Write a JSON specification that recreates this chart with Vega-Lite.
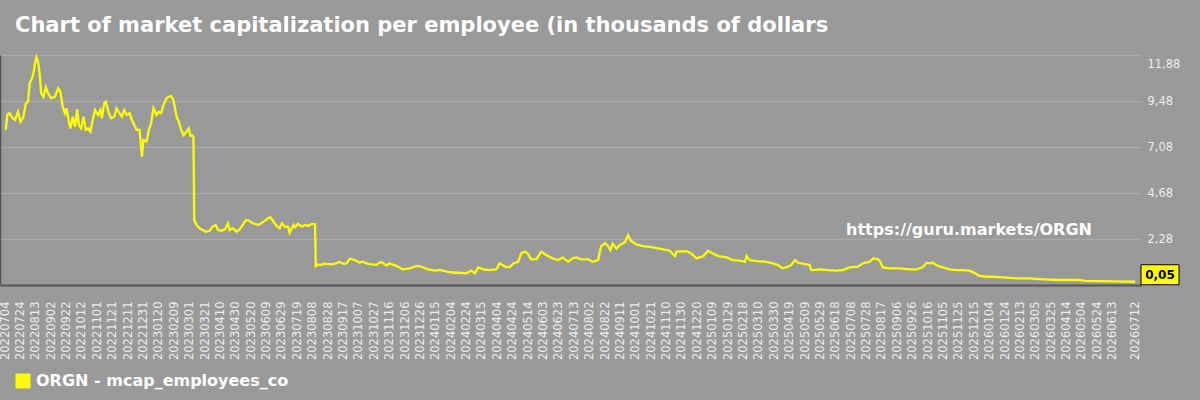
{
"$schema": "https://vega.github.io/schema/vega-lite/v6.json",
"width": 1141, "height": 230,
"autosize": {"type": "none"},
"padding": {"left": 0, "top": 55, "right": 59, "bottom": 115},
"background": "#999999",
"title": {"text": "Chart of market capitalization per employee (in thousands of dollars", "anchor": "start", "frame": "group", "dx": 15, "offset": 0, "baseline": "alphabetic", "font": "DejaVu Sans", "fontSize": 21, "fontWeight": "bold", "color": "#ffffff"},
"config": {"view": {"stroke": null}, "axisX": {"labelOverlap": false, "labelFlush": false}},
"datasets": {
"series": [
{"date":"2022-07-05","value":7.97},{"date":"2022-07-07","value":8.75},{"date":"2022-07-10","value":8.84},{"date":"2022-07-14","value":8.58},{"date":"2022-07-17","value":8.49},{"date":"2022-07-21","value":8.92},{"date":"2022-07-24","value":8.40},{"date":"2022-07-28","value":8.66},{"date":"2022-07-31","value":9.36},{"date":"2022-08-03","value":9.45},{"date":"2022-08-05","value":10.40},{"date":"2022-08-08","value":10.66},{"date":"2022-08-10","value":10.92},{"date":"2022-08-12","value":11.44},{"date":"2022-08-14","value":11.76},{"date":"2022-08-16","value":11.53},{"date":"2022-08-18","value":10.92},{"date":"2022-08-20","value":9.88},{"date":"2022-08-23","value":9.70},{"date":"2022-08-26","value":10.22},{"date":"2022-08-29","value":9.88},{"date":"2022-09-02","value":9.62},{"date":"2022-09-07","value":9.70},{"date":"2022-09-11","value":10.14},{"date":"2022-09-14","value":9.96},{"date":"2022-09-17","value":9.18},{"date":"2022-09-20","value":8.84},{"date":"2022-09-22","value":9.10},{"date":"2022-09-25","value":8.40},{"date":"2022-09-27","value":8.05},{"date":"2022-09-30","value":8.66},{"date":"2022-10-03","value":8.14},{"date":"2022-10-06","value":9.05},{"date":"2022-10-08","value":8.23},{"date":"2022-10-11","value":8.05},{"date":"2022-10-14","value":8.66},{"date":"2022-10-17","value":7.97},{"date":"2022-10-20","value":8.05},{"date":"2022-10-23","value":7.88},{"date":"2022-10-26","value":8.49},{"date":"2022-10-29","value":9.01},{"date":"2022-11-02","value":8.75},{"date":"2022-11-05","value":9.01},{"date":"2022-11-07","value":8.58},{"date":"2022-11-10","value":9.36},{"date":"2022-11-12","value":9.44},{"date":"2022-11-16","value":8.84},{"date":"2022-11-19","value":8.58},{"date":"2022-11-23","value":8.66},{"date":"2022-11-26","value":9.10},{"date":"2022-11-30","value":8.84},{"date":"2022-12-03","value":8.66},{"date":"2022-12-06","value":9.01},{"date":"2022-12-09","value":8.75},{"date":"2022-12-13","value":8.84},{"date":"2022-12-16","value":8.49},{"date":"2022-12-19","value":8.23},{"date":"2022-12-22","value":7.97},{"date":"2022-12-26","value":7.97},{"date":"2022-12-29","value":6.57},{"date":"2022-12-31","value":7.44},{"date":"2023-01-04","value":7.36},{"date":"2023-01-07","value":7.97},{"date":"2023-01-10","value":8.32},{"date":"2023-01-13","value":9.10},{"date":"2023-01-17","value":8.75},{"date":"2023-01-20","value":8.92},{"date":"2023-01-23","value":8.84},{"date":"2023-01-26","value":9.27},{"date":"2023-01-30","value":9.62},{"date":"2023-02-02","value":9.70},{"date":"2023-02-05","value":9.74},{"date":"2023-02-08","value":9.53},{"date":"2023-02-12","value":8.66},{"date":"2023-02-15","value":8.40},{"date":"2023-02-18","value":7.97},{"date":"2023-02-21","value":7.70},{"date":"2023-02-25","value":7.88},{"date":"2023-02-28","value":8.05},{"date":"2023-03-02","value":7.66},{"date":"2023-03-04","value":7.70},{"date":"2023-03-06","value":7.62},
{"date":"2023-03-07","value":3.26},{"date":"2023-03-10","value":3.01},{"date":"2023-03-14","value":2.84},{"date":"2023-03-18","value":2.75},{"date":"2023-03-22","value":2.66},{"date":"2023-03-27","value":2.71},{"date":"2023-03-31","value":2.92},{"date":"2023-04-04","value":3.01},{"date":"2023-04-07","value":2.75},{"date":"2023-04-11","value":2.71},{"date":"2023-04-16","value":2.78},{"date":"2023-04-20","value":3.10},{"date":"2023-04-22","value":2.75},{"date":"2023-04-26","value":2.84},{"date":"2023-05-01","value":2.66},{"date":"2023-05-05","value":2.78},{"date":"2023-05-09","value":3.01},{"date":"2023-05-13","value":3.27},{"date":"2023-05-17","value":3.24},{"date":"2023-05-22","value":3.10},{"date":"2023-05-25","value":3.07},{"date":"2023-05-29","value":3.01},{"date":"2023-06-02","value":3.10},{"date":"2023-06-07","value":3.24},{"date":"2023-06-11","value":3.36},{"date":"2023-06-14","value":3.42},{"date":"2023-06-18","value":3.19},{"date":"2023-06-22","value":2.96},{"date":"2023-06-26","value":2.84},{"date":"2023-06-29","value":3.10},{"date":"2023-07-03","value":2.92},{"date":"2023-07-07","value":2.92},{"date":"2023-07-09","value":2.61},{"date":"2023-07-14","value":3.01},{"date":"2023-07-16","value":2.89},{"date":"2023-07-20","value":3.07},{"date":"2023-07-25","value":2.92},{"date":"2023-07-29","value":3.01},{"date":"2023-08-02","value":2.96},{"date":"2023-08-07","value":3.07},{"date":"2023-08-11","value":3.05},
{"date":"2023-08-12","value":0.87},{"date":"2023-08-15","value":0.95},{"date":"2023-08-18","value":0.92},{"date":"2023-08-23","value":0.99},{"date":"2023-08-27","value":0.97},{"date":"2023-09-03","value":0.97},{"date":"2023-09-08","value":1.02},{"date":"2023-09-12","value":1.08},{"date":"2023-09-17","value":0.99},{"date":"2023-09-21","value":1.01},{"date":"2023-09-25","value":1.25},{"date":"2023-10-02","value":1.18},{"date":"2023-10-08","value":1.04},{"date":"2023-10-12","value":1.11},{"date":"2023-10-16","value":1.02},{"date":"2023-10-21","value":0.97},{"date":"2023-10-30","value":0.93},{"date":"2023-11-05","value":1.09},{"date":"2023-11-12","value":0.90},{"date":"2023-11-16","value":1.01},{"date":"2023-11-20","value":0.94},{"date":"2023-11-25","value":0.87},{"date":"2023-12-03","value":0.70},{"date":"2023-12-12","value":0.75},{"date":"2023-12-21","value":0.87},{"date":"2023-12-27","value":0.84},{"date":"2024-01-05","value":0.70},{"date":"2024-01-10","value":0.66},{"date":"2024-01-16","value":0.63},{"date":"2024-01-20","value":0.67},{"date":"2024-01-24","value":0.63},{"date":"2024-01-31","value":0.57},{"date":"2024-02-09","value":0.52},{"date":"2024-02-15","value":0.52},{"date":"2024-02-24","value":0.49},{"date":"2024-03-01","value":0.63},{"date":"2024-03-06","value":0.49},{"date":"2024-03-10","value":0.80},{"date":"2024-03-17","value":0.70},{"date":"2024-03-25","value":0.66},{"date":"2024-04-03","value":0.70},{"date":"2024-04-07","value":1.01},{"date":"2024-04-14","value":0.84},{"date":"2024-04-20","value":0.80},{"date":"2024-04-25","value":1.01},{"date":"2024-05-01","value":1.09},{"date":"2024-05-05","value":1.53},{"date":"2024-05-10","value":1.62},{"date":"2024-05-14","value":1.50},{"date":"2024-05-18","value":1.22},{"date":"2024-05-25","value":1.23},{"date":"2024-05-31","value":1.62},{"date":"2024-06-07","value":1.43},{"date":"2024-06-15","value":1.27},{"date":"2024-06-22","value":1.18},{"date":"2024-06-28","value":1.32},{"date":"2024-07-05","value":1.09},{"date":"2024-07-11","value":1.27},{"date":"2024-07-16","value":1.32},{"date":"2024-07-22","value":1.22},{"date":"2024-07-31","value":1.22},{"date":"2024-08-06","value":1.09},{"date":"2024-08-13","value":1.18},{"date":"2024-08-17","value":1.91},{"date":"2024-08-22","value":2.07},{"date":"2024-08-26","value":1.91},{"date":"2024-08-29","value":1.70},{"date":"2024-09-01","value":2.04},{"date":"2024-09-06","value":1.78},{"date":"2024-09-10","value":1.96},{"date":"2024-09-17","value":2.12},{"date":"2024-09-21","value":2.49},{"date":"2024-09-25","value":2.17},{"date":"2024-10-02","value":2.00},{"date":"2024-10-10","value":1.91},{"date":"2024-10-19","value":1.87},{"date":"2024-11-01","value":1.78},{"date":"2024-11-14","value":1.67},{"date":"2024-11-21","value":1.39},{"date":"2024-11-23","value":1.62},{"date":"2024-12-06","value":1.65},{"date":"2024-12-12","value":1.53},{"date":"2024-12-19","value":1.27},{"date":"2024-12-28","value":1.39},{"date":"2025-01-03","value":1.67},{"date":"2025-01-09","value":1.53},{"date":"2025-01-16","value":1.39},{"date":"2025-01-27","value":1.32},{"date":"2025-02-04","value":1.18},{"date":"2025-02-13","value":1.15},{"date":"2025-02-20","value":1.09},{"date":"2025-02-22","value":1.39},{"date":"2025-02-26","value":1.18},{"date":"2025-03-07","value":1.13},{"date":"2025-03-20","value":1.09},{"date":"2025-03-28","value":1.01},{"date":"2025-04-04","value":0.92},{"date":"2025-04-10","value":0.75},{"date":"2025-04-17","value":0.84},{"date":"2025-04-21","value":0.92},{"date":"2025-04-26","value":1.18},{"date":"2025-04-30","value":1.04},{"date":"2025-05-09","value":0.97},{"date":"2025-05-15","value":0.92},{"date":"2025-05-17","value":0.66},{"date":"2025-05-28","value":0.70},{"date":"2025-06-08","value":0.66},{"date":"2025-06-19","value":0.63},{"date":"2025-06-27","value":0.66},{"date":"2025-07-06","value":0.80},{"date":"2025-07-17","value":0.84},{"date":"2025-07-23","value":1.01},{"date":"2025-08-01","value":1.09},{"date":"2025-08-06","value":1.27},{"date":"2025-08-12","value":1.22},{"date":"2025-08-15","value":1.09},{"date":"2025-08-18","value":0.80},{"date":"2025-08-27","value":0.75},{"date":"2025-09-09","value":0.75},{"date":"2025-09-22","value":0.70},{"date":"2025-10-01","value":0.70},{"date":"2025-10-09","value":0.80},{"date":"2025-10-14","value":1.04},{"date":"2025-10-18","value":1.01},{"date":"2025-10-22","value":1.04},{"date":"2025-10-29","value":0.87},{"date":"2025-11-04","value":0.80},{"date":"2025-11-13","value":0.70},{"date":"2025-11-22","value":0.66},{"date":"2025-11-30","value":0.66},{"date":"2025-12-09","value":0.63},{"date":"2025-12-16","value":0.49},{"date":"2025-12-22","value":0.35},{"date":"2025-12-31","value":0.31},{"date":"2026-01-08","value":0.31},{"date":"2026-01-21","value":0.28},{"date":"2026-02-08","value":0.23},{"date":"2026-02-25","value":0.23},{"date":"2026-03-10","value":0.19},{"date":"2026-03-23","value":0.16},{"date":"2026-04-05","value":0.14},{"date":"2026-05-01","value":0.14},{"date":"2026-05-08","value":0.09},{"date":"2026-06-13","value":0.07},{"date":"2026-07-12","value":0.05}
],
"last": [{"date": "2026-07-12", "value": 0.05, "label": "0,05"}],
"site": [{"date": "2026-05-17", "value": 2.75, "label": "https://guru.markets/ORGN"}]
},
"encoding": {
"x": {"field": "date", "type": "temporal", "title": null,
"scale": {"type": "utc", "domain": [{"year": 2022, "month": 6, "date": 27, "hours": 12, "utc": true}, {"year": 2026, "month": 7, "date": 19, "hours": 19, "utc": true}]},
"axis": {"orient": "bottom", "ticks": false, "grid": false, "domain": true, "domainColor": "#555555", "domainWidth": 2, "labelAngle": 270, "labelPadding": 16, "labelFont": "DejaVu Sans", "labelFontSize": 11.5, "labelColor": "#eeeeee", "labelOverlap": false, "labelFlush": false, "labelBound": false, "labelSeparation": 0,
"labelExpr": "utcFormat(datum.value, '%Y%m%d')",
"values": [
{"year":2022,"month":7,"date":4,"utc":true},{"year":2022,"month":7,"date":24,"utc":true},{"year":2022,"month":8,"date":13,"utc":true},{"year":2022,"month":9,"date":2,"utc":true},{"year":2022,"month":9,"date":22,"utc":true},{"year":2022,"month":10,"date":12,"utc":true},{"year":2022,"month":11,"date":1,"utc":true},{"year":2022,"month":11,"date":21,"utc":true},{"year":2022,"month":12,"date":11,"utc":true},{"year":2022,"month":12,"date":31,"utc":true},
{"year":2023,"month":1,"date":20,"utc":true},{"year":2023,"month":2,"date":9,"utc":true},{"year":2023,"month":3,"date":1,"utc":true},{"year":2023,"month":3,"date":21,"utc":true},{"year":2023,"month":4,"date":10,"utc":true},{"year":2023,"month":4,"date":30,"utc":true},{"year":2023,"month":5,"date":20,"utc":true},{"year":2023,"month":6,"date":9,"utc":true},{"year":2023,"month":6,"date":29,"utc":true},{"year":2023,"month":7,"date":19,"utc":true},{"year":2023,"month":8,"date":8,"utc":true},{"year":2023,"month":8,"date":28,"utc":true},{"year":2023,"month":9,"date":17,"utc":true},{"year":2023,"month":10,"date":7,"utc":true},{"year":2023,"month":10,"date":27,"utc":true},{"year":2023,"month":11,"date":16,"utc":true},{"year":2023,"month":12,"date":6,"utc":true},{"year":2023,"month":12,"date":26,"utc":true},
{"year":2024,"month":1,"date":15,"utc":true},{"year":2024,"month":2,"date":4,"utc":true},{"year":2024,"month":2,"date":24,"utc":true},{"year":2024,"month":3,"date":15,"utc":true},{"year":2024,"month":4,"date":4,"utc":true},{"year":2024,"month":4,"date":24,"utc":true},{"year":2024,"month":5,"date":14,"utc":true},{"year":2024,"month":6,"date":3,"utc":true},{"year":2024,"month":6,"date":23,"utc":true},{"year":2024,"month":7,"date":13,"utc":true},{"year":2024,"month":8,"date":2,"utc":true},{"year":2024,"month":8,"date":22,"utc":true},{"year":2024,"month":9,"date":11,"utc":true},{"year":2024,"month":10,"date":1,"utc":true},{"year":2024,"month":10,"date":21,"utc":true},{"year":2024,"month":11,"date":10,"utc":true},{"year":2024,"month":11,"date":30,"utc":true},{"year":2024,"month":12,"date":20,"utc":true},
{"year":2025,"month":1,"date":9,"utc":true},{"year":2025,"month":1,"date":29,"utc":true},{"year":2025,"month":2,"date":18,"utc":true},{"year":2025,"month":3,"date":10,"utc":true},{"year":2025,"month":3,"date":30,"utc":true},{"year":2025,"month":4,"date":19,"utc":true},{"year":2025,"month":5,"date":9,"utc":true},{"year":2025,"month":5,"date":29,"utc":true},{"year":2025,"month":6,"date":18,"utc":true},{"year":2025,"month":7,"date":8,"utc":true},{"year":2025,"month":7,"date":28,"utc":true},{"year":2025,"month":8,"date":17,"utc":true},{"year":2025,"month":9,"date":6,"utc":true},{"year":2025,"month":9,"date":26,"utc":true},{"year":2025,"month":10,"date":16,"utc":true},{"year":2025,"month":11,"date":5,"utc":true},{"year":2025,"month":11,"date":25,"utc":true},{"year":2025,"month":12,"date":15,"utc":true},
{"year":2026,"month":1,"date":4,"utc":true},{"year":2026,"month":1,"date":24,"utc":true},{"year":2026,"month":2,"date":13,"utc":true},{"year":2026,"month":3,"date":5,"utc":true},{"year":2026,"month":3,"date":25,"utc":true},{"year":2026,"month":4,"date":14,"utc":true},{"year":2026,"month":5,"date":4,"utc":true},{"year":2026,"month":5,"date":24,"utc":true},{"year":2026,"month":6,"date":13,"utc":true},{"year":2026,"month":7,"date":12,"utc":true}
]}}
},
"layer": [
{
"data": {"name": "series"},
"mark": {"type": "line", "color": "#ffff00", "strokeWidth": 2.3},
"encoding": {
"y": {"field": "value", "type": "quantitative", "title": null,
"scale": {"domain": [-0.12, 11.88], "nice": false, "zero": false},
"axis": {"orient": "right", "values": [2.28, 4.68, 7.08, 9.48, 11.88], "labelExpr": "replace(format(datum.value, '.2f'), '.', ',')", "ticks": false, "domain": false, "grid": true, "gridColor": "#a9a9a9", "gridWidth": 1.5, "labelPadding": 6, "labelFlush": true, "labelFlushOffset": -3, "labelFont": "DejaVu Sans", "labelFontSize": 11.5, "labelColor": "#eeeeee"}},
"color": {"datum": "ORGN - mcap_employees_co", "type": "nominal", "scale": {"range": ["#ffff00"]},
"legend": {"title": null, "orient": "none", "legendX": 15, "legendY": 318, "symbolType": "square", "symbolSize": 225, "symbolFillColor": "#ffff00", "symbolStrokeWidth": 0, "labelFont": "DejaVu Sans", "labelFontSize": 16, "labelFontWeight": "bold", "labelColor": "#ffffff", "labelOffset": 5, "labelLimit": 500}}
}
},
{
"data": {"name": "site"},
"mark": {"type": "text", "align": "right", "baseline": "middle", "font": "DejaVu Sans", "fontSize": 16, "fontWeight": "bold", "color": "#ffffff"},
"encoding": {
"y": {"field": "value", "type": "quantitative", "title": null, "axis": {"orient": "left", "labels": false, "ticks": false, "grid": false, "domain": true, "domainColor": "#555555", "domainWidth": 1.5}},
"text": {"field": "label"}
}
},
{
"data": {"name": "last"},
"mark": {"type": "point", "shape": "M0.6,-1.7H4.4V0.3H0.6Z", "size": 400, "filled": true, "fill": "#ffff00", "stroke": "#000000", "strokeWidth": 1, "opacity": 1},
"encoding": {
"y": {"field": "value", "type": "quantitative", "title": null, "axis": null}
}
},
{
"data": {"name": "last"},
"mark": {"type": "text", "dx": 25, "dy": -7, "align": "center", "baseline": "middle", "font": "DejaVu Sans", "fontSize": 12, "fontWeight": "bold", "color": "#000000"},
"encoding": {
"y": {"field": "value", "type": "quantitative", "title": null, "axis": null},
"text": {"field": "label"}
}
}
],
"resolve": {"axis": {"y": "independent"}}
}
